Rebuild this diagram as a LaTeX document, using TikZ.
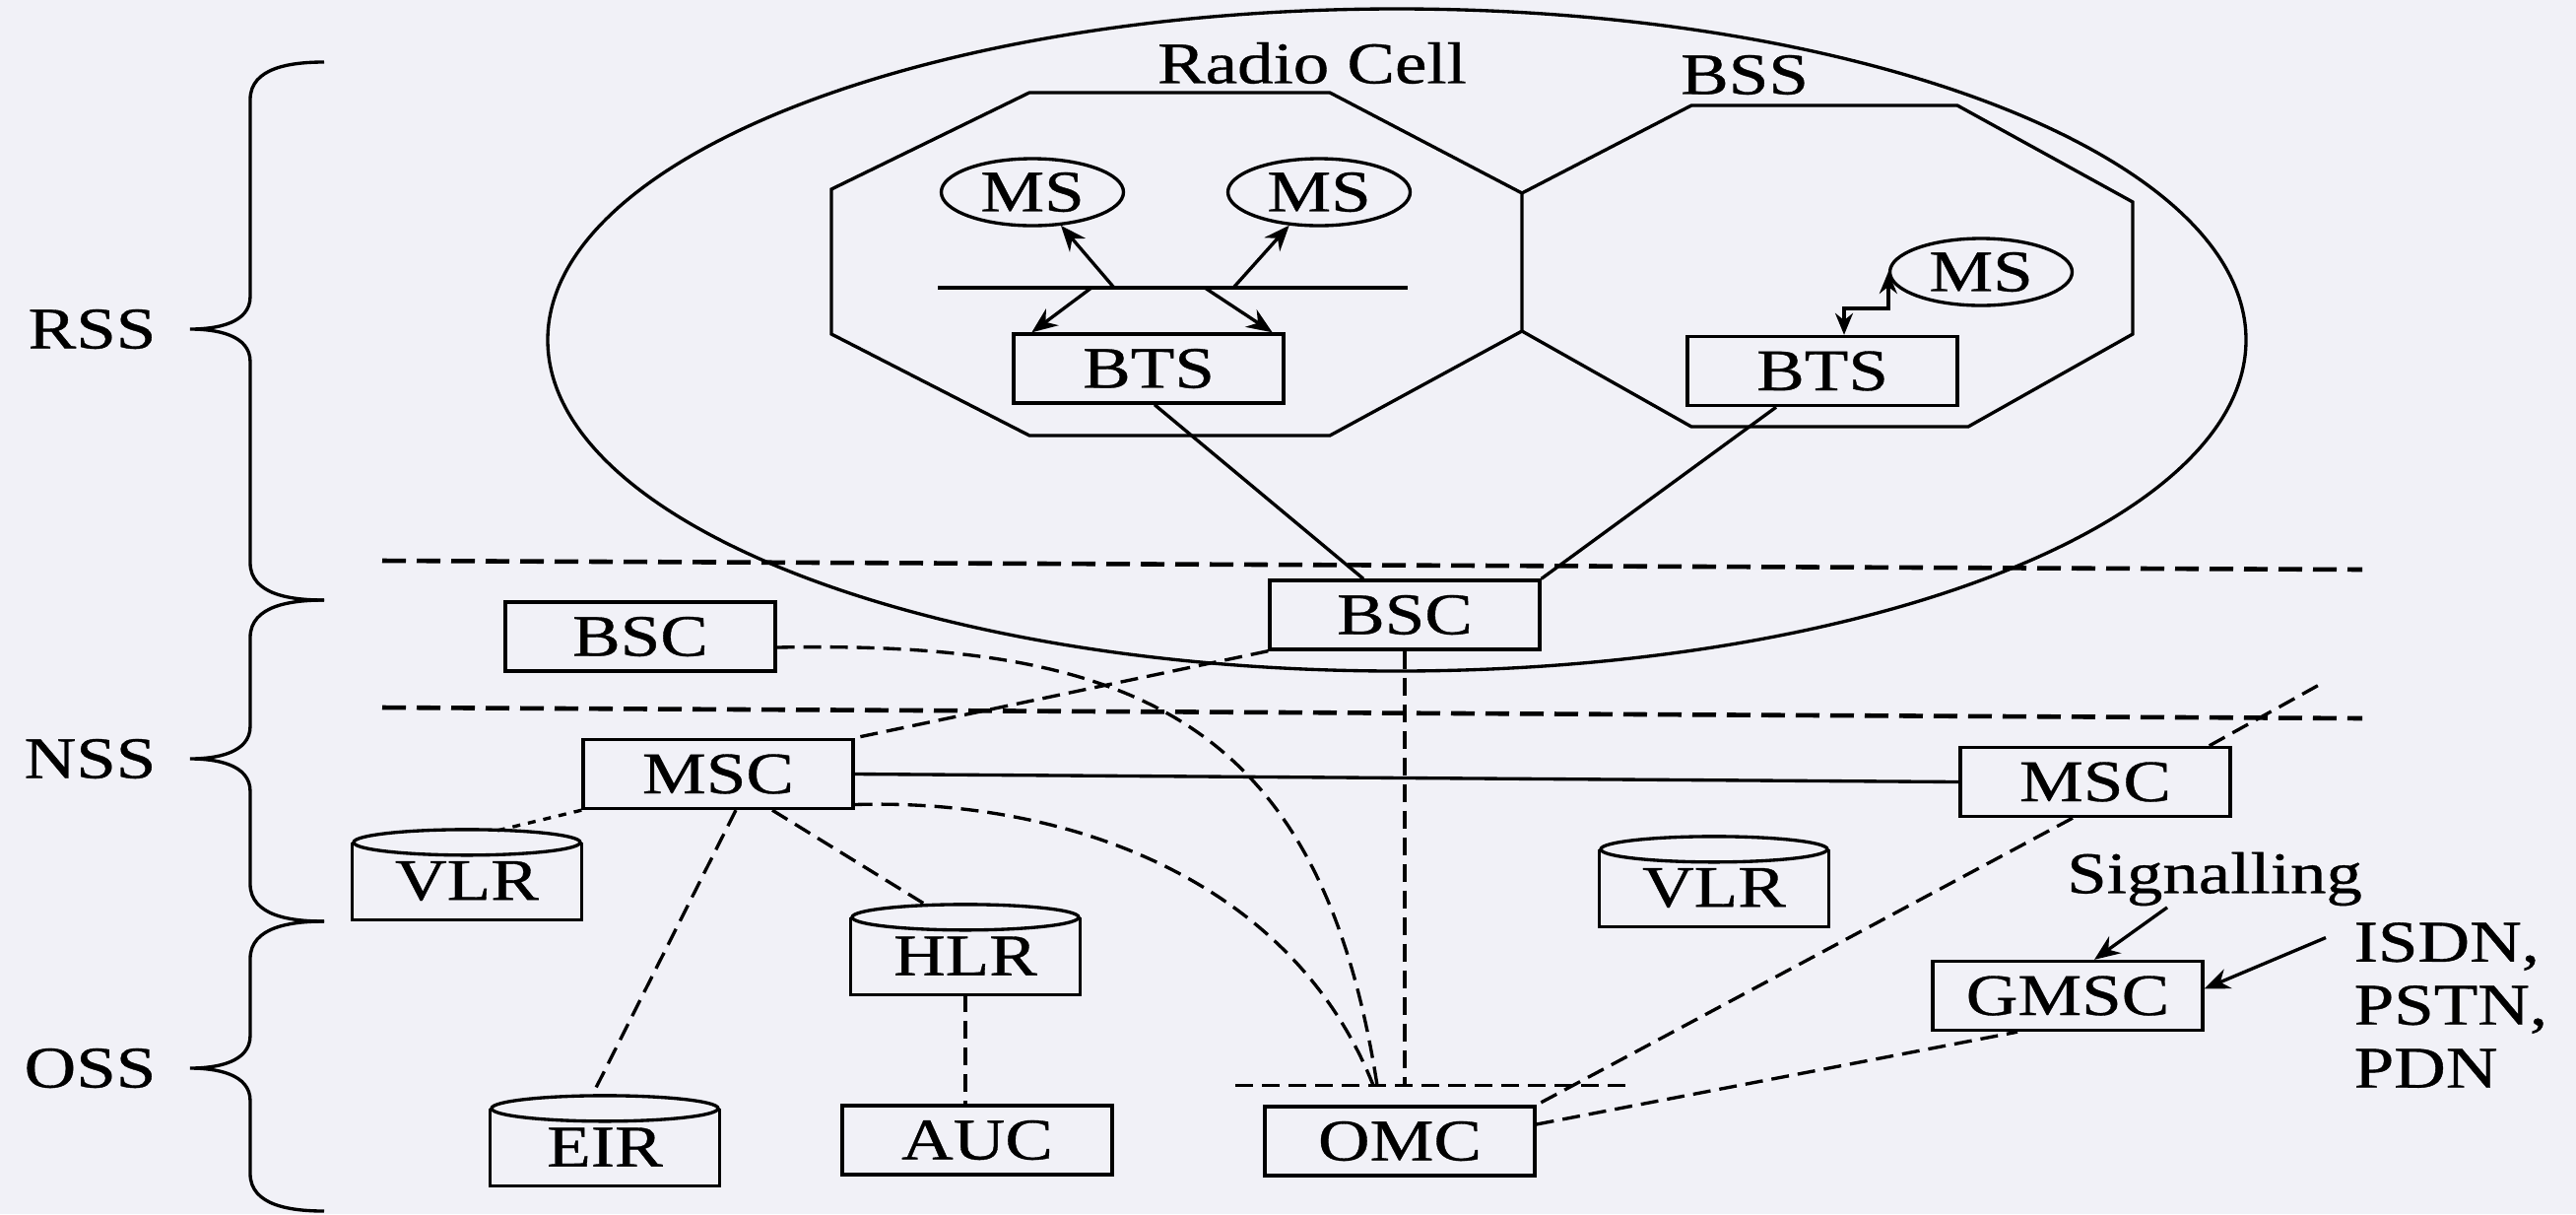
\documentclass[tikz,border=0pt]{standalone}
\usepackage{fontspec}
\setmainfont{Liberation Serif}[FakeStretch=1.22, FakeBold=0.6]
\usetikzlibrary{arrows.meta,shapes.geometric}
\definecolor{paper}{RGB}{241,241,247}

\begin{document}
\begin{tikzpicture}[
  line width=0.95pt,
  txt/.style={font=\fontsize{17}{18.2}\selectfont, inner sep=0pt},
  box/.style={draw, txt, minimum width=27.4mm, minimum height=7mm},
  db/.style={txt, minimum width=23mm, minimum height=7.5mm},
  ms/.style={draw, ellipse, txt, minimum width=18.5mm, minimum height=6.8mm},
  arr/.style={-{Stealth[length=2.6mm, width=2.1mm]}},
  dbl/.style={{Stealth[length=2.2mm, width=1.8mm]}-{Stealth[length=2.2mm, width=1.8mm]}},
  sep/.style={dash pattern=on 2.4mm off 1.1mm, line width=1.3pt},
  link/.style={dash pattern=on 1.8mm off 0.9mm},
  dot/.style={dash pattern=on 0.8mm off 0.8mm}]

  \fill[paper] (0,0) rectangle (26.15,-12.32);
  \useasboundingbox (0,0) rectangle (26.15,-12.32);

  % subsystem braces
  \foreach \lbl/\ya/\yb/\yc in {RSS/-0.63/-3.34/-6.09, NSS/-6.09/-7.70/-9.35, OSS/-9.35/-10.84/-12.29} {
    \draw (3.29,\ya) to[out=180,in=90] (2.54,\ya-0.38) -- (2.54,\yb+0.33)
      to[out=-90,in=0] (1.93,\yb) to[out=0,in=90] (2.54,\yb-0.33)
      -- (2.54,\yc+0.38) to[out=-90,in=180] (3.29,\yc);
    \node[txt, anchor=east] (\lbl) at (1.60,\yb) {\lbl};
  }

  % BSS and its two cells
  \draw (14.18,-3.45) ellipse [x radius=8.62, y radius=3.36];
  \draw (10.45,-0.94) -- (13.50,-0.94) -- (15.45,-1.96) -- (15.45,-3.36) -- (13.50,-4.42)
    -- (10.45,-4.42) -- (8.44,-3.39) -- (8.44,-1.92) -- cycle;
  \draw (15.45,-1.96) -- (17.17,-1.07) -- (19.87,-1.07) -- (21.65,-2.05) -- (21.65,-3.39)
    -- (19.98,-4.33) -- (17.17,-4.33) -- (15.45,-3.36);
  \node[txt] (cell) at (13.32,-0.64) {Radio Cell};
  \node[txt] (bss) at (17.71,-0.76) {BSS};

  \node[ms] (ms1) at (10.48,-1.95) {MS};
  \node[ms] (ms2) at (13.39,-1.95) {MS};
  \node[ms] (ms3) at (20.11,-2.76) {MS};
  \node[box] (bts1) at (11.66,-3.74) {BTS};
  \node[box] (bts2) at (18.50,-3.765) {BTS};

  % network nodes
  \node[box] (bsc1) at (14.26,-6.24) {BSC};
  \node[box] (bsc2) at (6.50,-6.46) {BSC};
  \node[box] (msc1) at (7.29,-7.855) {MSC};
  \node[box] (msc2) at (21.27,-7.935) {MSC};
  \node[db] (vlr1) at (4.74,-8.94) {VLR};
  \node[db] (vlr2) at (17.40,-9.01) {VLR};
  \node[db] (hlr) at (9.80,-9.70) {HLR};
  \node[db] (eir) at (6.14,-11.64) {EIR};
  \node[box] (auc) at (9.92,-11.57) {AUC};
  \node[box] (omc) at (14.21,-11.58) {OMC};
  \node[box] (gmsc) at (20.99,-10.105) {GMSC};
  \node[txt] (sig) at (22.48,-8.92) {Signalling};
  \node[txt, align=left, anchor=west] (nets) at (23.88,-10.20) {ISDN,\\PSTN,\\PDN};

  % database outlines
  \foreach \n in {vlr1,vlr2,hlr,eir} {
    \draw (\n.north west) -- (\n.south west) -- (\n.south east) -- (\n.north east);
    \draw (\n.north) ellipse [x radius=11.5mm, y radius=1.3mm];
  }

  % radio links
  \coordinate (busl) at (9.52,-2.92);
  \coordinate (busr) at (14.29,-2.92);
  \coordinate (up1) at (11.31,-2.92);
  \coordinate (dn1) at (11.08,-2.92);
  \coordinate (up2) at (12.52,-2.92);
  \coordinate (dn2) at (12.23,-2.92);
  \draw (busl) -- (busr);
  \draw[arr] (up1) -- (ms1);
  \draw[arr] (up2) -- (ms2);
  \draw[arr] (dn1) -- ([xshift=2mm]bts1.north west);
  \draw[arr] (dn2) -- ([xshift=-1.3mm]bts1.north east);
  \draw[dbl] (ms3.west) -- ++(0,-0.37) -| ([xshift=2.2mm]bts2.north);
  \draw ([xshift=0.6mm]bts1.south) -- ([xshift=-4.2mm]bsc1.north);
  \draw ([xshift=-4.7mm]bts2.south) -- (bsc1.north east);

  % subsystem borders
  \coordinate (s1l) at (3.88,-5.69);
  \coordinate (s1r) at (23.98,-5.78);
  \coordinate (s2l) at (3.88,-7.18);
  \coordinate (s2r) at (23.98,-7.29);
  \draw[sep] (s1l) -- (s1r);
  \draw[sep] (s2l) -- (s2r);
  \coordinate (hubl) at ([shift={(-1.67,0.2)}]omc.north);
  \coordinate (hubr) at ([shift={(2.29,0.2)}]omc.north);
  \draw[link] (hubl) -- (hubr);

  % connections
  \draw (msc1.east) -- (msc2.west);
  \draw[link] ([yshift=-1.1mm]bsc2.east) .. controls (11.5,-6.5) and (13.4,-7.3) .. ([shift={(-0.23,0.2)}]omc.north);
  \draw[link] (bsc1.south west) -- (msc1.north east);
  \draw[link] (bsc1.south) -- (bsc1.south |- hubl);
  \draw[link] ([yshift=-3.1mm]msc1.east) .. controls (10.8,-8.1) and (13.1,-8.9) .. ([shift={(-0.27,0.2)}]omc.north);
  \draw[dot] (msc1.south west) -- ([shift={(0.31,0.12)}]vlr1.north);
  \draw[link] ([xshift=1.8mm]msc1.south) -- ([shift={(-0.13,0.13)}]eir.north);
  \draw[link] ([xshift=5.5mm]msc1.south) -- ([shift={(-0.39,0.12)}]hlr.north);
  \draw[link] (hlr.south) -- (hlr.south |- auc.north);
  \draw[link] ([xshift=-2.3mm]msc2.south) -- (omc.north east);
  \draw[link] ([yshift=1.7mm]omc.east) -- ([xshift=-5.1mm]gmsc.south);
  \coordinate (ext) at (23.56,-6.94);
  \draw[link] ([xshift=-2.3mm]msc2.north east) -- (ext);
  \draw[arr] ([xshift=-4.8mm]sig.south) -- ([xshift=2.7mm]gmsc.north);
  \draw[arr] ([shift={(-0.27,-0.17)}]nets.north west) -- ([yshift=0.7mm]gmsc.east);
\end{tikzpicture}
\end{document}
